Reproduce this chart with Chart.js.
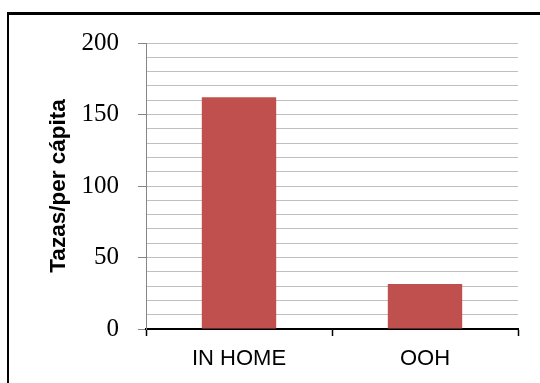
<!DOCTYPE html>
<html>
<head>
<meta charset="utf-8">
<script src="https://cdn.jsdelivr.net/npm/chart.js@4/dist/chart.umd.min.js"></script>
<style>
  html, body { margin: 0; padding: 0; background: #fff; overflow: hidden; }
  #wrap { position: absolute; left: 0; top: 0; width: 540px; height: 383px; }
  #frame { position: absolute; left: 7px; top: 12px; width: 600px; height: 500px;
           border-left: 2px solid #000; border-top: 3px solid #000; box-sizing: border-box; }
  canvas { position: absolute; left: 0; top: 0; }
</style>
</head>
<body>
<div id="wrap">
  <div id="frame"></div>
  <canvas id="c" width="540" height="383"></canvas>
</div>
<script>
// Consumo de café: tazas per cápita, en casa vs. fuera de casa
const categories = ['IN HOME', 'OOH'];
const tazas = [162, 31.5];
const yMin = 0;
const yMax = 200;
const minorStep = 10;
const majorStep = 50;
const yTitle = 'Tazas/per cápita';

const isMajor = v => v % majorStep === 0;

new Chart(document.getElementById('c'), {
  type: 'bar',
  data: {
    labels: categories,
    datasets: [{
      data: tazas,
      backgroundColor: '#C0504D',
      borderWidth: 0,
      barPercentage: 0.4,
      categoryPercentage: 1.0
    }]
  },
  options: {
    responsive: false,
    animation: false,
    devicePixelRatio: 1,
    layout: { padding: { top: 43, right: 22, left: 0, bottom: 0 } },
    plugins: { legend: { display: false }, tooltip: { enabled: false } },
    scales: {
      x: {
        afterFit: s => { s.height = 54; },
        grid: {
          drawOnChartArea: false,
          drawTicks: true,
          tickLength: 7,
          tickWidth: 1.5,
          tickColor: '#000'
        },
        border: { color: '#000', width: 2 },
        ticks: {
          color: '#000',
          padding: 10,
          font: { family: '"Liberation Sans", Arial, sans-serif', size: 22 }
        }
      },
      y: {
        min: yMin,
        max: yMax,
        afterFit: s => { s.width = 146; },
        grid: {
          color: ctx => (ctx.tick && ctx.tick.value === 0) ? 'rgba(0,0,0,0)' : '#BFBFBF',
          lineWidth: 1,
          drawTicks: true,
          tickLength: 8,
          tickColor: ctx => (ctx.tick && isMajor(ctx.tick.value)) ? '#868686' : 'rgba(0,0,0,0)'
        },
        border: { color: '#868686', width: 1 },
        ticks: {
          stepSize: minorStep,
          autoSkip: false,
          color: '#000',
          padding: 19,
          font: { family: '"Liberation Serif", "DejaVu Serif", serif', size: 25 },
          callback: v => isMajor(v) ? String(v) : ''
        },
        title: {
          display: true,
          text: yTitle,
          color: '#000',
          padding: { top: 45, bottom: 0 },
          font: { family: '"Liberation Sans", Arial, sans-serif', size: 22.5, weight: 'bold' }
        }
      }
    }
  }
});
</script>
</body>
</html>
